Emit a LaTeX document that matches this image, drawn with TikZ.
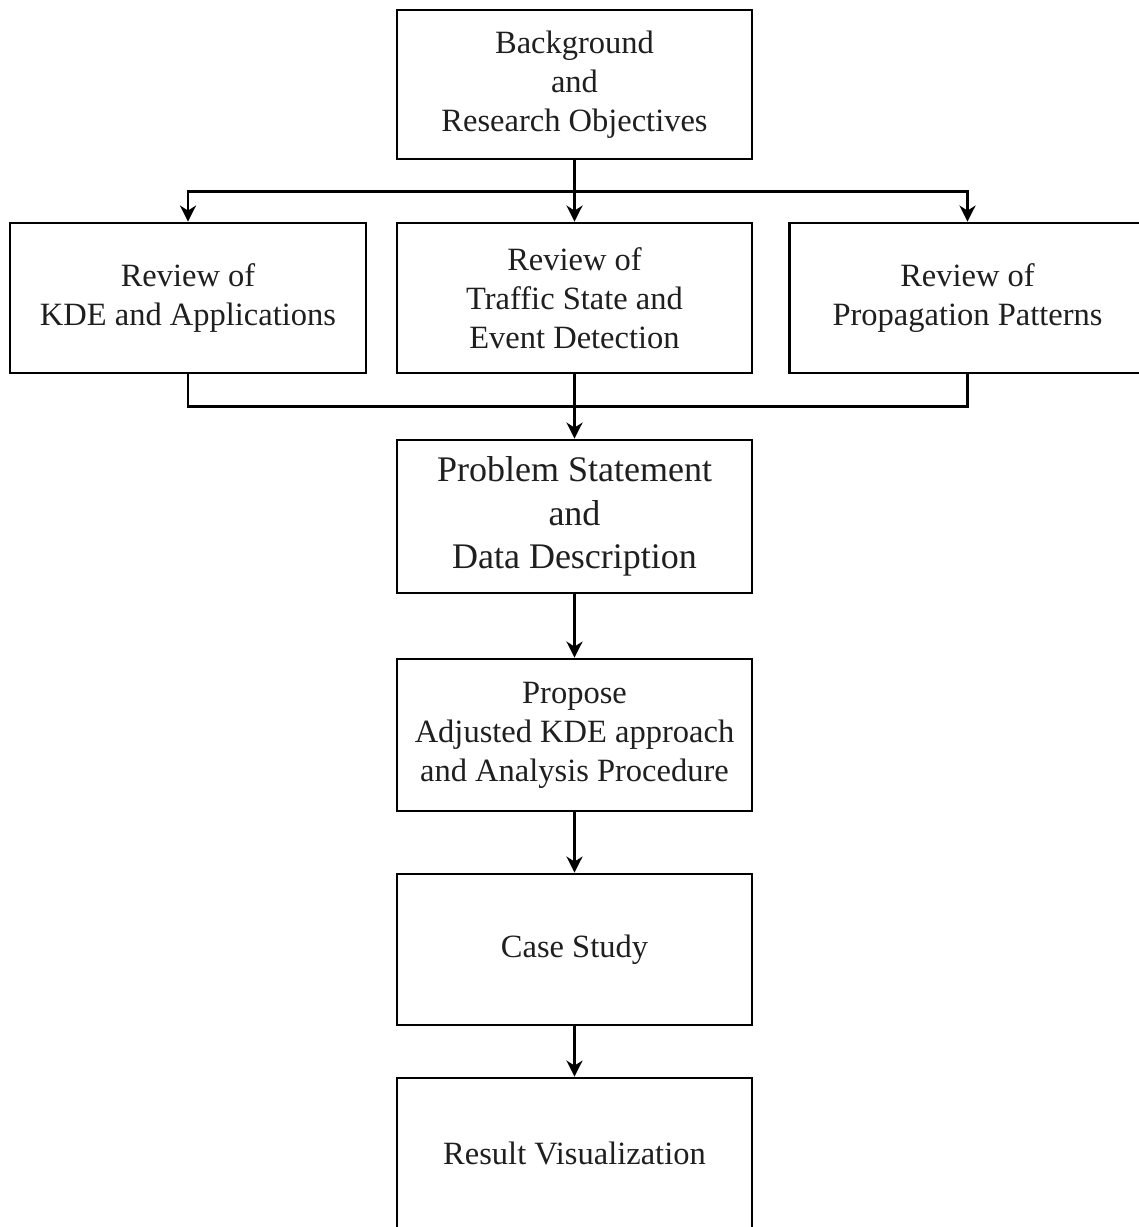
\documentclass[tikz,border=0pt]{standalone}
\usepackage{fontspec}
\setmainfont{Liberation Serif}
\usetikzlibrary{arrows.meta}
\tikzset{
  box/.style={draw=black, line width=2.8pt, rectangle, inner sep=0pt, align=center,
    minimum width=355pt, minimum height=150pt, text=black!88,
    font=\fontsize{32.5}{39}\selectfont},
  bigtext/.style={font=\fontsize{36}{43.5}\selectfont},
  conn/.style={draw=black, line width=2.8pt},
  arr/.style={conn, -{Stealth[length=16pt, width=16pt, inset=5pt]}},
}
\begin{document}
\begin{tikzpicture}[x=1pt,y=1pt]
\useasboundingbox (0,0) rectangle (1139,-1227);
\clip (0,0) rectangle (1139,-1227);
\fill[white] (0,0) rectangle (1139,-1227);
\node[box, minimum height=149pt] (bg) at (574.5,-84.5) {Background\\and\\Research Objectives};
\node[box, minimum width=356pt] (left) at (188,-298) {Review of\\KDE and Applications};
\node[box] (mid) at (574.5,-298) {Review of\\Traffic State and\\Event Detection};
\node[box, minimum width=356pt] (right) at (967.5,-298) {Review of\\Propagation Patterns};
\node[box, bigtext, minimum height=153pt] (prob) at (574.5,-516.5) {Problem Statement\\and\\Data Description};
\node[box, minimum height=152pt] (prop) at (574.5,-735) {Propose\\Adjusted KDE approach\\and Analysis Procedure};
\node[box, minimum height=151pt] (case) at (574.5,-949.5) {Case Study};
\node[box] (res) at (574.5,-1153) {Result Visualization};
\coordinate (j1) at (574.5,-191.7);
\coordinate (j2) at (574.5,-406.7);
\draw[arr] (bg.south) -- (mid.north);
\draw[arr] (j1) -| (left.north);
\draw[arr] (j1) -| (right.north);
\draw[conn] (left.south) |- (j2);
\draw[conn] (right.south) |- (j2);
\draw[arr] (mid.south) -- (prob.north);
\draw[arr] (prob.south) -- (prop.north);
\draw[arr] (prop.south) -- (case.north);
\draw[arr] (case.south) -- (res.north);
\end{tikzpicture}
\end{document}
